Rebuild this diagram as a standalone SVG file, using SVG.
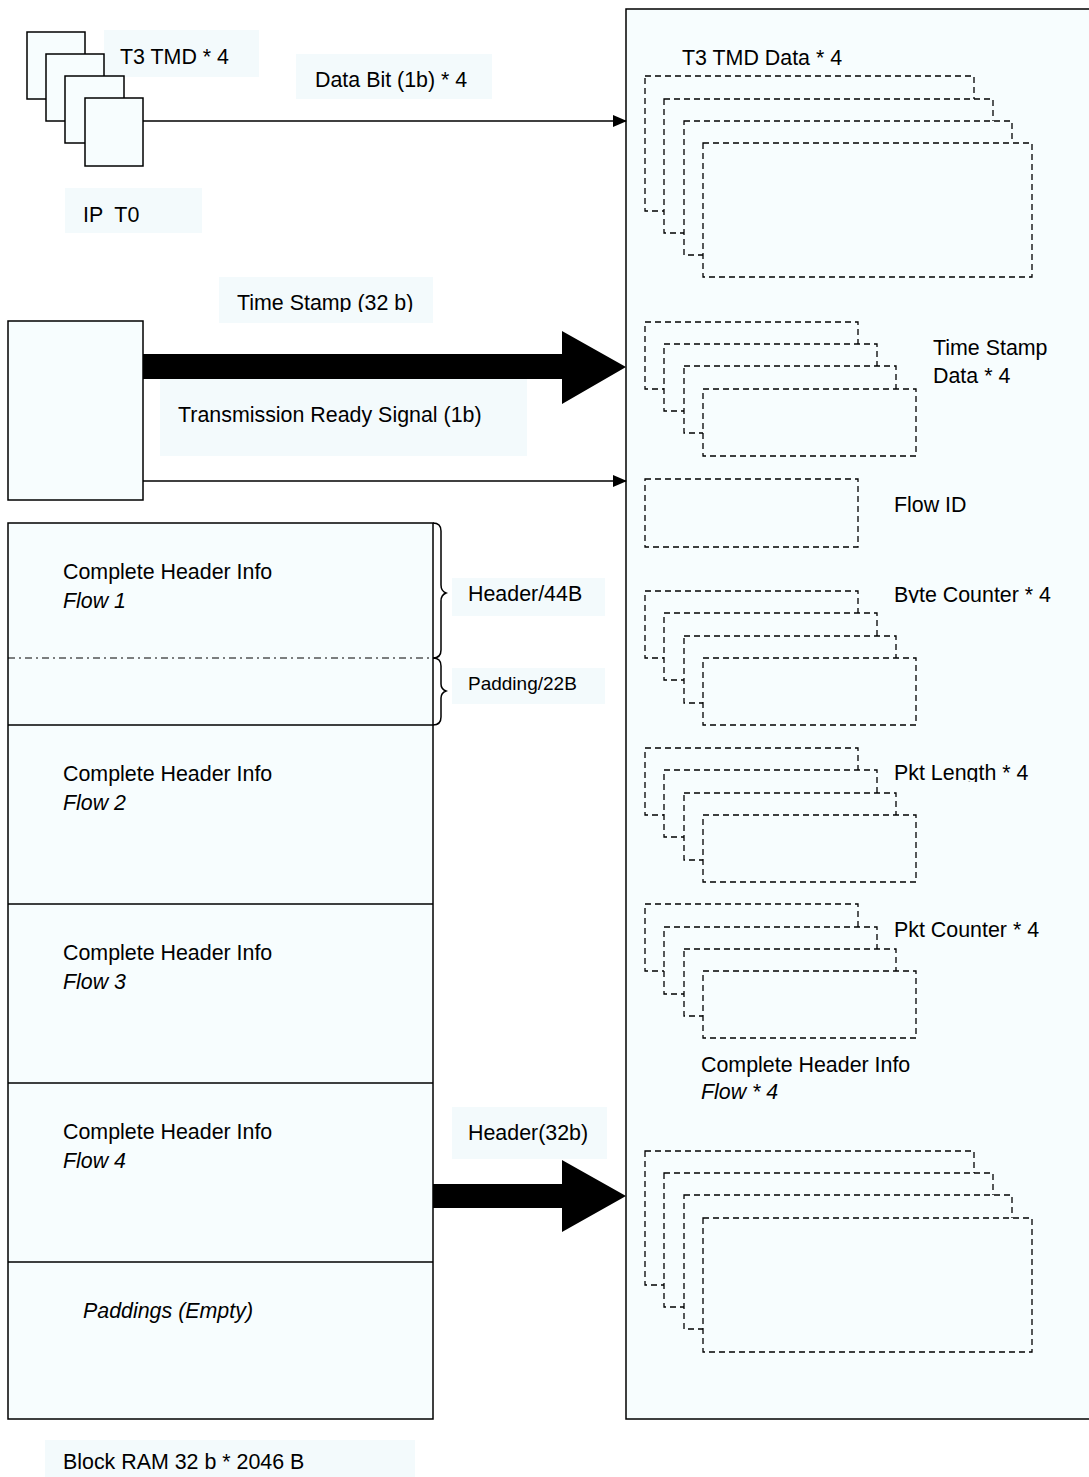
<svg xmlns="http://www.w3.org/2000/svg" width="1089" height="1477" viewBox="0 0 1089 1477">
<style>
.bg{fill:#ffffff}
.s{fill:#f7fdfe;stroke:#000;stroke-width:1.5}
.d{fill:#f7fdfe;stroke:#000;stroke-width:1.3;stroke-dasharray:6 4}
.lb{fill:#f3fafc;stroke:none}
.t{font-family:"Liberation Sans",Arial,sans-serif;font-size:21.4px;fill:#000}
.sm{font-size:19px}
.i{font-style:italic}
.ln{stroke:#000;stroke-width:1.5;fill:none}
</style>
<defs>
<marker id="ah" markerWidth="14" markerHeight="12" refX="13" refY="6" orient="auto" markerUnits="userSpaceOnUse">
<path d="M0,0 L14,6 L0,12 Z" fill="#000"/>
</marker>
<clipPath id="cTS"><rect x="200" y="270" width="260" height="42"/></clipPath>
<clipPath id="cBC"><rect x="880" y="570" width="200" height="33"/></clipPath>
<clipPath id="cPL"><rect x="880" y="750" width="200" height="32"/></clipPath>
</defs>
<rect class="bg" x="0" y="0" width="1089" height="1477"/>

<!-- label backgrounds (drawn beneath shapes) -->
<g id="labelBackgrounds">
<rect class="lb" x="104" y="30" width="155" height="47"/>
<rect class="lb" x="65" y="188" width="137" height="45"/>
<rect class="lb" x="296" y="54" width="196" height="45"/>
<rect class="lb" x="219" y="277" width="214" height="46"/>
<rect class="lb" x="160" y="374" width="367" height="82"/>
<rect class="lb" x="452" y="578" width="153" height="38"/>
<rect class="lb" x="452" y="668" width="153" height="36"/>
<rect class="lb" x="452" y="1107" width="155" height="52"/>
<rect class="lb" x="45" y="1440" width="370" height="37"/>
</g>

<!-- big storage box -->
<g id="storage">
<rect class="s" x="626" y="9" width="470" height="1410"/>
</g>

<!-- T3 TMD stack -->
<g id="t3tmd">
<rect class="s" x="27" y="32" width="58" height="67"/>
<rect class="s" x="46" y="54" width="58" height="67"/>
<rect class="s" x="65" y="76" width="59" height="67"/>
<rect class="s" x="85" y="98" width="58" height="68"/>
<text class="t" x="120" y="64">T3 TMD * 4</text>
<text class="t" x="83" y="222" xml:space="preserve">IP  T0</text>
</g>

<!-- timestamp source -->
<g id="tsSource">
<rect class="s" x="8" y="321" width="135" height="179"/>
</g>

<!-- RAM -->
<g id="ram">
<rect class="s" x="8" y="523" width="425" height="896"/>
<line x1="8" y1="658" x2="433" y2="658" stroke="#000" stroke-width="1" stroke-dasharray="7 4 2 4"/>
<line class="ln" x1="8" y1="725" x2="433" y2="725"/>
<line class="ln" x1="8" y1="904" x2="433" y2="904"/>
<line class="ln" x1="8" y1="1083" x2="433" y2="1083"/>
<line class="ln" x1="8" y1="1262" x2="433" y2="1262"/>
<text class="t" x="63" y="579">Complete Header Info</text>
<text class="t i" x="63" y="608">Flow 1</text>
<text class="t" x="63" y="781">Complete Header Info</text>
<text class="t i" x="63" y="810">Flow 2</text>
<text class="t" x="63" y="960">Complete Header Info</text>
<text class="t i" x="63" y="989">Flow 3</text>
<text class="t" x="63" y="1139">Complete Header Info</text>
<text class="t i" x="63" y="1168">Flow 4</text>
<text class="t i" x="83" y="1318">Paddings (Empty)</text>
<text class="t" x="63" y="1469">Block RAM 32 b * 2046 B</text>
</g>

<!-- braces -->
<g id="braces">
<path class="ln" stroke-width="1.3" d="M433,523 Q441,523 441,531 L441,585 Q441,591 446,593 Q441,595 441,601 L441,650 Q441,658 433,658"/>
<path class="ln" stroke-width="1.3" d="M433,658 Q441,658 441,666 L441,684 Q441,689 446,691 Q441,693 441,698 L441,717 Q441,725 433,725"/>
<text class="t" x="468" y="601">Header/44B</text>
<text class="t sm" x="468" y="690">Padding/22B</text>
</g>

<!-- T3 TMD Data stack -->
<g id="t3data">
<text class="t" x="682" y="65">T3 TMD Data * 4</text>
<rect class="d" x="645" y="76" width="329" height="135"/>
<rect class="d" x="664" y="99" width="329" height="134"/>
<rect class="d" x="684" y="121" width="328" height="134"/>
<rect class="d" x="703" y="143" width="329" height="134"/>
</g>

<!-- Time stamp data -->
<g id="tsData">
<rect class="d" x="645" y="322" width="213" height="67"/>
<rect class="d" x="664" y="344" width="213" height="67"/>
<rect class="d" x="684" y="366" width="212" height="67"/>
<rect class="d" x="703" y="389" width="213" height="67"/>
<text class="t" x="933" y="355">Time Stamp</text>
<text class="t" x="933" y="383">Data * 4</text>
</g>

<!-- Flow ID -->
<g id="flowId">
<rect class="d" x="645" y="479" width="213" height="68"/>
<text class="t" x="894" y="512">Flow ID</text>
</g>

<!-- Byte counter -->
<g id="byteCounter">
<rect class="d" x="645" y="591" width="213" height="67"/>
<rect class="d" x="664" y="613" width="213" height="67"/>
<rect class="d" x="684" y="636" width="212" height="67"/>
<rect class="d" x="703" y="658" width="213" height="67"/>
<text class="t" x="894" y="602" clip-path="url(#cBC)">Byte Counter * 4</text>
</g>

<!-- Pkt length -->
<g id="pktLength">
<rect class="d" x="645" y="748" width="213" height="67"/>
<rect class="d" x="664" y="770" width="213" height="67"/>
<rect class="d" x="684" y="793" width="212" height="67"/>
<rect class="d" x="703" y="815" width="213" height="67"/>
<text class="t" x="894" y="780" clip-path="url(#cPL)">Pkt Length * 4</text>
</g>

<!-- Pkt counter -->
<g id="pktCounter">
<rect class="d" x="645" y="904" width="213" height="67"/>
<rect class="d" x="664" y="927" width="213" height="67"/>
<rect class="d" x="684" y="949" width="212" height="67"/>
<rect class="d" x="703" y="971" width="213" height="67"/>
<text class="t" x="894" y="937">Pkt Counter * 4</text>
</g>

<!-- Header data -->
<g id="headerData">
<text class="t" x="701" y="1072">Complete Header Info</text>
<text class="t i" x="701" y="1099">Flow * 4</text>
<rect class="d" x="645" y="1151" width="329" height="134"/>
<rect class="d" x="664" y="1173" width="329" height="134"/>
<rect class="d" x="684" y="1195" width="328" height="134"/>
<rect class="d" x="703" y="1218" width="329" height="134"/>
</g>

<!-- connectors -->
<g id="connectors">
<line class="ln" x1="143" y1="121" x2="626" y2="121" marker-end="url(#ah)"/>
<text class="t" x="315" y="87">Data Bit (1b) * 4</text>

<path d="M143,354 L562,354 L562,331 L626,367 L562,404 L562,379 L143,379 Z" fill="#000"/>
<text class="t" x="237" y="310" clip-path="url(#cTS)">Time Stamp (32 b)</text>

<text class="t" x="178" y="422">Transmission Ready Signal (1b)</text>
<line class="ln" x1="143" y1="481" x2="626" y2="481" marker-end="url(#ah)"/>

<path d="M433,1184 L562,1184 L562,1160 L626,1196 L562,1232 L562,1208 L433,1208 Z" fill="#000"/>
<text class="t" x="468" y="1140">Header(32b)</text>
</g>
</svg>
